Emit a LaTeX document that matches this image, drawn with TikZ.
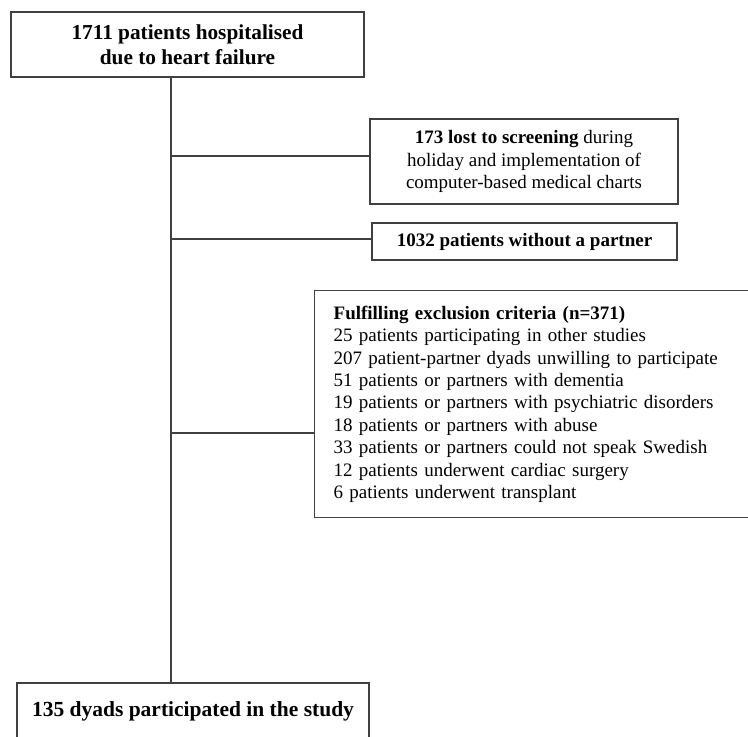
\documentclass[tikz,border=0pt]{standalone}
\usepackage{fontspec}
\setmainfont{Liberation Serif}
\usetikzlibrary{positioning}

\tikzset{
  flowbox/.style={draw=black!75,line width=1.3pt,inner sep=0pt,align=center},
  link/.style={draw=black!75,line width=1.2pt},
}

\begin{document}
\begin{tikzpicture}[x=1pt,y=-1pt]
\useasboundingbox (0,0) rectangle (748,737);
\coordinate (spine) at (171,0);

\node[flowbox,minimum width=353pt,minimum height=65pt,font=\fontsize{21.3}{25}\selectfont\bfseries] (start) at (187.5,44.5) {1711 patients hospitalised\\due to heart failure};

\node[flowbox,minimum width=308pt,minimum height=85pt,font=\fontsize{19}{22.5}\selectfont] (lost) at (524,161.5) {\textbf{173 lost to screening} during\\holiday and implementation of\\computer-based medical charts};
\coordinate (lostin) at (lost.west |- 0,156);

\node[flowbox,minimum width=305pt,minimum height=37pt,font=\fontsize{19}{22.5}\selectfont\bfseries] (nopartner) at (524.5,241.5) {1032 patients without a partner};
\coordinate (nopartnerin) at (nopartner.west |- 0,239);

\node[flowbox,anchor=north west,minimum width=446pt,minimum height=227pt,inner xsep=19pt,text width=408pt,align=left,font=\fontsize{19}{22.4}\selectfont] (excl) at (314,290) {\textbf{Fulfilling exclusion criteria (n=371)}\\
25 patients participating in other studies\\
207 patient-partner dyads unwilling to participate\\
51 patients or partners with dementia\\
19 patients or partners with psychiatric disorders\\
18 patients or partners with abuse\\
33 patients or partners could not speak Swedish\\
12 patients underwent cardiac surgery\\
6 patients underwent transplant};
\coordinate (exclin) at (excl.west |- 0,433);

\node[flowbox,minimum width=352pt,minimum height=57pt,font=\fontsize{21.5}{25}\selectfont\bfseries] (study) at (193,711.5) {135 dyads participated in the study};

% spine and branches
\draw[link] (start.south -| spine) -- (study.north -| spine);
\draw[link] (spine |- lostin) -- (lostin);
\draw[link] (spine |- nopartnerin) -- (nopartnerin);
\draw[link] (spine |- exclin) -- (exclin);

\end{tikzpicture}
\end{document}
